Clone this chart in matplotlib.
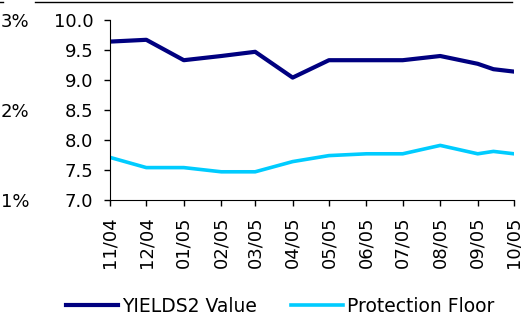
import matplotlib
matplotlib.use("Agg")
import matplotlib.pyplot as plt
import matplotlib.dates as mdates
from matplotlib.lines import Line2D
from matplotlib.ticker import FixedLocator, FuncFormatter
import pandas as pd

plt.rcParams['font.family'] = ['DejaVu Sans']

dates = ["2004-11-01", "2004-12-01", "2005-01-01", "2005-02-01", "2005-03-01",
         "2005-04-01", "2005-05-01", "2005-06-01", "2005-07-01", "2005-08-01",
         "2005-09-01", "2005-09-14", "2005-10-01"]
yields2_value = [9.64, 9.67, 9.33, 9.40, 9.47, 9.04, 9.33, 9.33, 9.33, 9.40, 9.27, 9.18, 9.14]
protection_floor = [7.71, 7.54, 7.54, 7.47, 7.47, 7.64, 7.74, 7.77, 7.77, 7.91, 7.77, 7.81, 7.77]
tick_dates = ["2004-11-01", "2004-12-01", "2005-01-01", "2005-02-01", "2005-03-01",
              "2005-04-01", "2005-05-01", "2005-06-01", "2005-07-01", "2005-08-01",
              "2005-09-01", "2005-10-01"]
y_ticks = [7.0, 7.5, 8.0, 8.5, 9.0, 9.5, 10.0]
pct_ticks = [1, 2, 3]

W, H = 521, 314
fig = plt.figure(figsize=(W / 100, H / 100), dpi=100)
rect = [110 / W, 1 - 200 / H, (514 - 110) / W, 180 / H]
ax = fig.add_axes(rect)

x = pd.to_datetime(dates)
l1, = ax.plot(x, yields2_value, color='#000080', lw=3.0, label='YIELDS2 Value')
l2, = ax.plot(x, protection_floor, color='#00CCFF', lw=2.6, label='Protection Floor')

ax.set_xlim(pd.Timestamp(tick_dates[0]), pd.Timestamp(tick_dates[-1]))
ax.set_ylim(7.0, 10.0)
ax.set_yticks(y_ticks)
ax.yaxis.set_major_formatter(FuncFormatter(lambda v, p: f"{v:.1f}"))
ax.xaxis.set_major_locator(FixedLocator(mdates.date2num(pd.to_datetime(tick_dates))))
ax.xaxis.set_major_formatter(mdates.DateFormatter("%m/%y"))
for s in ['top', 'right']:
    ax.spines[s].set_visible(False)
ax.tick_params(axis='both', direction='out', length=4, width=1, labelsize=13, color='black')
ax.tick_params(axis='y', pad=8)
ax.tick_params(axis='x', pad=8, labelrotation=90)

# percent axis on the far left
ax2 = fig.add_axes(rect, frameon=False)
ax2.set_ylim(1, 3)
ax2.set_yticks(pct_ticks)
ax2.yaxis.set_major_formatter(FuncFormatter(lambda v, p: f"{int(v)}%"))
ax2.set_xticks([])
ax2.tick_params(axis='y', length=0, pad=58, labelsize=13)
ax2.patch.set_visible(False)

# top rule
fig.add_artist(Line2D([35 / W, 512 / W], [1 - 2 / H, 1 - 2 / H], color='black', lw=1))
fig.add_artist(Line2D([0, 3 / W], [1 - 2 / H, 1 - 2 / H], color='black', lw=1))

fig.legend(handles=[l1, l2], loc='center', bbox_to_anchor=(280 / W, 1 - 306 / H),
           ncol=2, frameon=False, fontsize=13.5, handlelength=2.8, handletextpad=0.2,
           columnspacing=1.8, borderpad=0, borderaxespad=0)

fig.savefig("out.png", dpi=100)
